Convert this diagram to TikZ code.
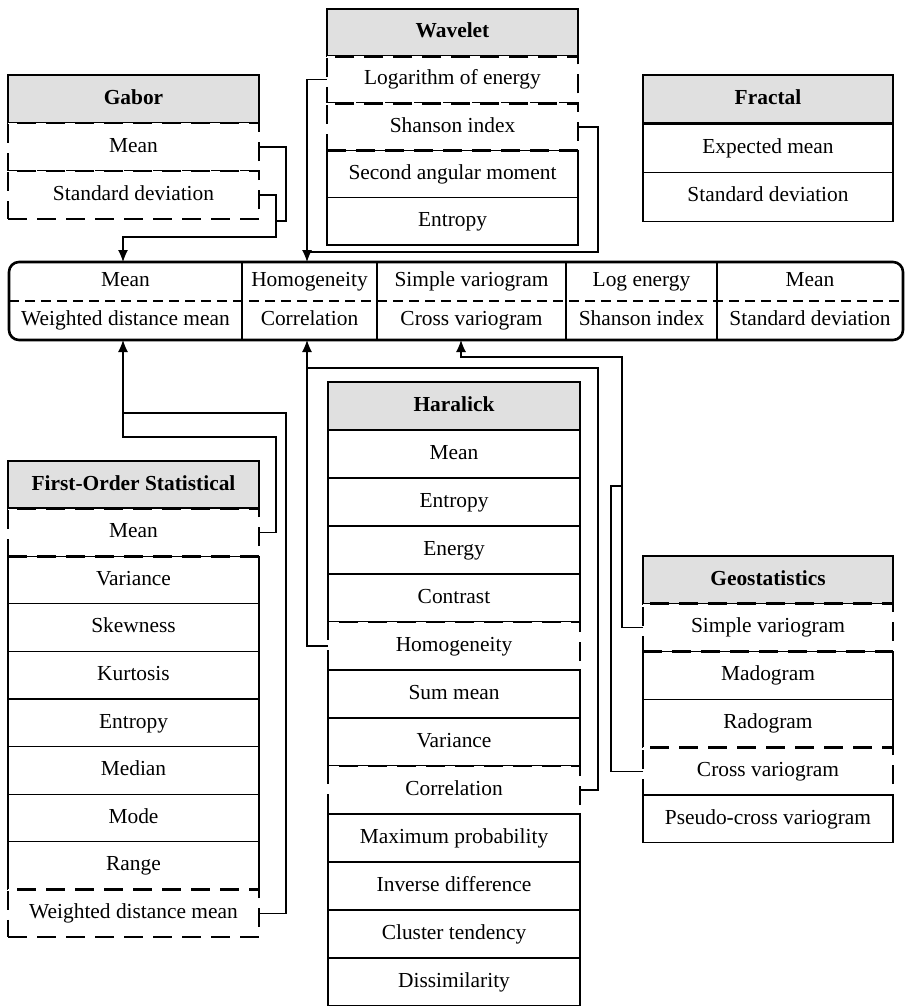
\documentclass[tikz,border=0pt]{standalone}
\usepackage{fontspec}
\setmainfont{Liberation Serif}
\usepackage{tikz}
\usetikzlibrary{arrows.meta, calc, positioning}
\definecolor{hdrgray}{gray}{0.88}

\begin{document}
\begin{tikzpicture}[x=0.5pt, y=-0.5pt,
    txt/.style={font=\fontsize{10.7}{12.8}\selectfont, inner sep=0pt, outer sep=0pt, text height=7.4pt, text depth=2.2pt},
    hdr/.style={txt, rectangle, draw, line width=1.3pt, fill=hdrgray, font=\fontsize{10.7}{12.8}\selectfont\bfseries},
    itm/.style={txt, rectangle, draw, line width=0.55pt},
    dsh/.style={txt, rectangle, draw, fill=white, line width=1.35pt, dash pattern=on 9.5pt off 5pt},
    cell/.style={txt, minimum height=19.5pt},
    gab/.style={minimum width=125.5pt, minimum height=24pt},
    wav/.style={minimum width=125.5pt, minimum height=23.6pt},
    frc/.style={minimum width=125pt, minimum height=24.35pt},
    fos/.style={minimum width=125.5pt, minimum height=23.8pt},
    har/.style={minimum width=126pt, minimum height=24pt},
    geo/.style={minimum width=125pt, minimum height=23.9pt},
    link/.style={line width=0.6pt},
    arr/.style={link, -{Latex[length=6pt,width=5pt]}}]
            \useasboundingbox (0,0) rectangle (907,1006);

            % Gabor
            \node[hdr, gab] (gabH) at (133.5,99) {Gabor};
            \node[dsh, gab] (gab1) at (133.5,147) {Mean};
            \node[dsh, gab] (gab2) at (133.5,195) {Standard deviation};

            % Wavelet
            \node[hdr, wav] (wavH) at (452.5,32.6) {Wavelet};
            \node[dsh, wav] (wav1) at (452.5,79.8) {Logarithm of energy};
            \node[dsh, wav] (wav2) at (452.5,127) {Shanson index};
            \node[itm, wav] (wav3) at (452.5,174.2) {Second angular moment};
            \node[itm, wav] (wav4) at (452.5,221.4) {Entropy};

            % Fractal
            \node[hdr, frc] (frcH) at (768,99.35) {Fractal};
            \node[itm, frc] (frc1) at (768,148.05) {Expected mean};
            \node[itm, frc] (frc2) at (768,196.75) {Standard deviation};

            % Selected features
            \node[txt, rectangle, draw, line width=1.3pt, rounded corners=5pt,
                  minimum width=447pt, minimum height=39pt] (bar) at (456,301) {};
            \draw[line width=0.9pt, dash pattern=on 5pt off 3pt] (bar.west) -- (bar.east);
            \node[cell, minimum width=116.5pt] (t1) at (125.5,281.5) {Mean};
            \node[cell, minimum width=116.5pt] (b1) at (125.5,320.5) {Weighted distance mean};
            \node[cell, minimum width=67.5pt] (t2) at (309.5,281.5) {Homogeneity};
            \node[cell, minimum width=67.5pt] (b2) at (309.5,320.5) {Correlation};
            \node[cell, minimum width=94.5pt] (t3) at (471.5,281.5) {Simple variogram};
            \node[cell, minimum width=94.5pt] (b3) at (471.5,320.5) {Cross variogram};
            \node[cell, minimum width=75.5pt] (t4) at (641.5,281.5) {Log energy};
            \node[cell, minimum width=75.5pt] (b4) at (641.5,320.5) {Shanson index};
            \node[cell, minimum width=93pt] (t5) at (810,281.5) {Mean};
            \node[cell, minimum width=93pt] (b5) at (810,320.5) {Standard deviation};
            \draw[link] (t1.east |- bar.north) -- (t1.east |- bar.south);
            \draw[link] (t2.east |- bar.north) -- (t2.east |- bar.south);
            \draw[link] (t3.east |- bar.north) -- (t3.east |- bar.south);
            \draw[link] (t4.east |- bar.north) -- (t4.east |- bar.south);

            % First-Order Statistical
            \node[hdr, fos] (fosH) at (133.5,484.8) {First-Order Statistical};
            \node[dsh, fos] (fos1) at (133.5,532.4) {Mean};
            \node[itm, fos] (fos2) at (133.5,580) {Variance};
            \node[itm, fos] (fos3) at (133.5,627.6) {Skewness};
            \node[itm, fos] (fos4) at (133.5,675.2) {Kurtosis};
            \node[itm, fos] (fos5) at (133.5,722.8) {Entropy};
            \node[itm, fos] (fos6) at (133.5,770.4) {Median};
            \node[itm, fos] (fos7) at (133.5,818) {Mode};
            \node[itm, fos] (fos8) at (133.5,865.6) {Range};
            \node[dsh, fos] (fos9) at (133.5,913.2) {Weighted distance mean};

            % Haralick
            \node[hdr, har] (harH) at (454,406) {Haralick};
            \node[itm, har] (har1) at (454,454) {Mean};
            \node[itm, har] (har2) at (454,502) {Entropy};
            \node[itm, har] (har3) at (454,550) {Energy};
            \node[itm, har] (har4) at (454,598) {Contrast};
            \node[dsh, har] (har5) at (454,646) {Homogeneity};
            \node[itm, har] (har6) at (454,694) {Sum mean};
            \node[itm, har] (har7) at (454,742) {Variance};
            \node[dsh, har] (har8) at (454,790) {Correlation};
            \node[itm, har] (har9) at (454,838) {Maximum probability};
            \node[itm, har] (har10) at (454,886) {Inverse difference};
            \node[itm, har] (har11) at (454,934) {Cluster tendency};
            \node[itm, har] (har12) at (454,982) {Dissimilarity};

            % Geostatistics
            \node[hdr, geo] (geoH) at (768,579.9) {Geostatistics};
            \node[dsh, geo] (geo1) at (768,627.7) {Simple variogram};
            \node[itm, geo] (geo2) at (768,675.5) {Madogram};
            \node[itm, geo] (geo3) at (768,723.3) {Radogram};
            \node[dsh, geo] (geo4) at (768,771.1) {Cross variogram};
            \node[itm, geo] (geo5) at (768,818.9) {Pseudo-cross variogram};

            % Junctions of the connectors
            \coordinate (xa) at (123,0);
            \coordinate (xb) at (307,0);
            \coordinate (wavJ) at (307,252);
            \coordinate (fosJ) at (123,437);
            \coordinate (fosK) at (123,413);
            \coordinate (harJ) at (307,368);
            \coordinate (geoJ) at (461,357);
            \coordinate (geoK) at (622,486);

            % Connectors into the bar
            \draw[link] (gab1.east) -- ++(27,0) -- ++(0,74) -- ++(-10,0);
            \draw[arr] (gab2.east) -- ++(17,0) -- ++(0,42) -| (xa |- bar.north);
            \draw[arr] (wav1.west) -| (xb |- bar.north);
            \draw[link] (wav2.east) -- ++(20,0) |- (wavJ);
            \draw[arr] (fos1.east) -- ++(17,0) |- (fosJ) -- (xa |- bar.south);
            \draw[link] (fos9.east) -- ++(27,0) |- (fosK);
            \draw[arr] (har5.west) -| (xb |- bar.south);
            \draw[link] (har8.east) -- ++(18,0) |- (harJ);
            \draw[arr] (geo1.west) -- ++(-21,0) |- (geoJ) -- (geoJ |- bar.south);
            \draw[link] (geo4.west) -- ++(-32,0) |- (geoK);
          \end{tikzpicture}
\end{document}
